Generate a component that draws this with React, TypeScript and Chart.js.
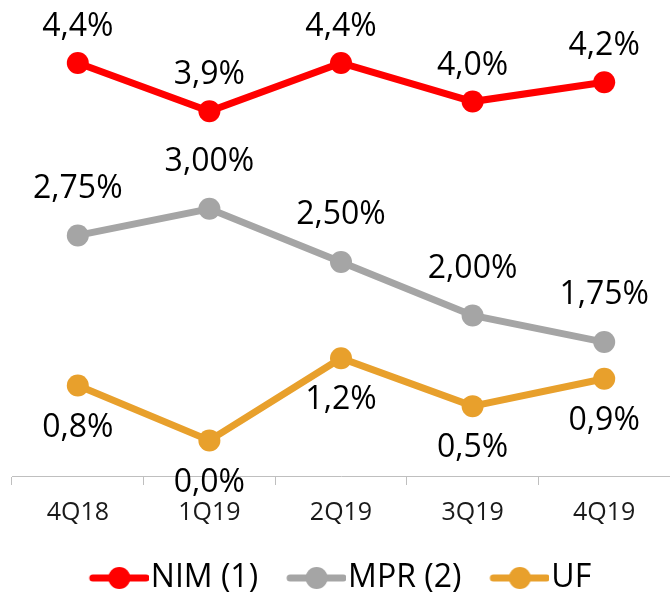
import React, { useEffect, useRef } from "react";
import { Chart, registerables } from "chart.js";

Chart.register(...registerables);

const categories = ["4Q18", "1Q19", "2Q19", "3Q19", "4Q19"];
const nimValues = [4.4, 3.9, 4.4, 4.0, 4.2];
const mprValues = [2.75, 3.0, 2.5, 2.0, 1.75];
const ufValues = [0.8, 0.0, 1.2, 0.5, 0.9];
const seriesNames = ["NIM (1)", "MPR (2)", "UF"];
const labelDecimals = [1, 2, 1];

const colors = ["#FF0000", "#A5A5A5", "#E8A02C"];
const labelOffsets = [-36, -47, 42];
const FONT = "'Open Sans', Lato, sans-serif";

function legendMarker(color: string): HTMLCanvasElement {
  const c = document.createElement("canvas");
  c.width = 72;
  c.height = 26;
  const ctx = c.getContext("2d")!;
  ctx.strokeStyle = color;
  ctx.lineWidth = 7;
  ctx.lineCap = "round";
  ctx.beginPath();
  ctx.moveTo(16, 13);
  ctx.lineTo(69, 13);
  ctx.stroke();
  ctx.fillStyle = color;
  ctx.beginPath();
  ctx.arc(42.5, 13, 11, 0, Math.PI * 2);
  ctx.fill();
  return c;
}

const labelPlugin = {
  id: "pointLabels",
  afterDatasetsDraw(chart: any) {
    const ctx = chart.ctx;
    ctx.save();
    ctx.font = `32px ${FONT}`;
    ctx.fillStyle = "#000000";
    ctx.textAlign = "center";
    ctx.textBaseline = "middle";
    chart.data.datasets.forEach((ds: any, i: number) => {
      const meta = chart.getDatasetMeta(i);
      meta.data.forEach((pt: any, j: number) => {
        const v = ds.data[j] as number;
        const text = v.toFixed(labelDecimals[i]).replace(".", ",") + "%";
        ctx.fillText(text, pt.x, pt.y + labelOffsets[i]);
      });
    });
    ctx.restore();
  },
};

export default function App() {
  const ref = useRef<HTMLCanvasElement>(null);
  useEffect(() => {
    let chart: Chart | null = null;
    let cancelled = false;
    const build = () => {
      if (cancelled || !ref.current) return;
      const markers = colors.map((c) => legendMarker(c));
      chart = new Chart(ref.current, {
        type: "line",
        data: {
          labels: categories,
          datasets: [
            { label: seriesNames[0], data: nimValues, yAxisID: "yNim" },
            { label: seriesNames[1], data: mprValues, yAxisID: "yMpr" },
            { label: seriesNames[2], data: ufValues, yAxisID: "yUf" },
          ].map((d, i) => ({
            ...d,
            borderColor: colors[i],
            backgroundColor: colors[i],
            borderWidth: 7,
            pointRadius: 11,
            pointBorderWidth: 0,
            pointBackgroundColor: colors[i],
            tension: 0,
            fill: false,
          })),
        },
        options: {
          responsive: false,
          animation: false,
          layout: {
            autoPadding: false,
            padding: { left: 12, right: 0, top: 10, bottom: 0 },
          },
          plugins: {
            tooltip: { enabled: false },
            legend: {
              position: "bottom",
              labels: {
                usePointStyle: true,
                pointStyleWidth: 44,
                padding: 30,
                color: "#000000",
                font: { family: FONT, size: 32 },
                generateLabels: (ch: any) =>
                  ch.data.datasets.map((ds: any, i: number) => ({
                    text: ds.label,
                    pointStyle: markers[i],
                    fillStyle: colors[i],
                    strokeStyle: colors[i],
                    lineWidth: 0,
                    hidden: false,
                    datasetIndex: i,
                  })),
              },
            },
          },
          scales: {
            x: {
              offset: true,
              grid: {
                offset: true,
                drawOnChartArea: false,
                drawTicks: true,
                tickLength: 9,
                color: "#BFBFBF",
              },
              border: { color: "#BFBFBF", width: 1 },
              ticks: {
                color: "#1a1a1a",
                padding: 13,
                font: { family: FONT, size: 25 },
              },
              afterFit: (axis: any) => {
                axis.height = 56;
              },
            },
            yNim: { display: false, min: 0.124, max: 4.948 },
            yMpr: { display: false, min: 0.494, max: 4.864 },
            yUf: { display: false, min: -0.519, max: 6.279 },
          },
        },
        plugins: [labelPlugin],
      });
    };
    const fonts: any = (document as any).fonts;
    if (fonts && fonts.load) {
      Promise.all([
        fonts.load(`32px 'Open Sans'`),
        fonts.load(`25px 'Open Sans'`),
      ])
        .catch(() => null)
        .then(build);
    } else {
      build();
    }
    return () => {
      cancelled = true;
      if (chart) chart.destroy();
    };
  }, []);
  return (
    <div
      style={{
        position: "fixed",
        left: 0,
        top: 0,
        width: 670,
        height: 593,
        overflow: "hidden",
        background: "#ffffff",
      }}
    >
      <canvas ref={ref} width={670} height={604} style={{ display: "block" }} />
    </div>
  );
}
